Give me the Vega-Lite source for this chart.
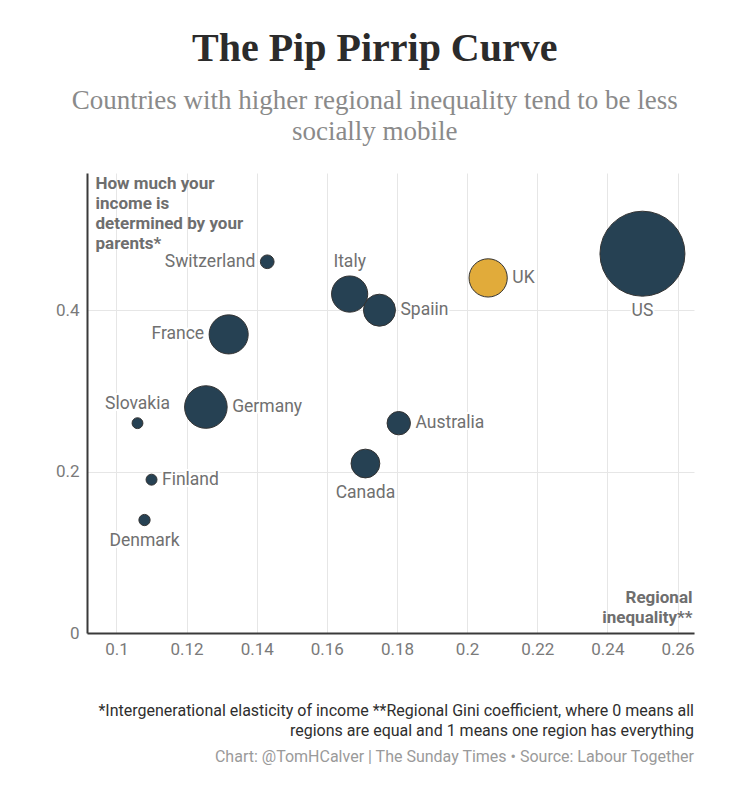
{
  "$schema": "https://vega.github.io/schema/vega-lite/v6.json",
  "background": "white",
  "padding": {"left": 55, "top": 29, "right": 20, "bottom": 10},
  "title": {
    "text": "The Pip Pirrip Curve",
    "subtitle": ["Countries with higher regional inequality tend to be less", "socially mobile"],
    "anchor": "middle",
    "font": "Liberation Serif",
    "fontSize": 40,
    "fontWeight": "bold",
    "color": "#2b2b2b",
    "subtitleFont": "Liberation Serif",
    "subtitleFontSize": 27,
    "subtitleColor": "#8a8a8a",
    "subtitleLineHeight": 31,
    "subtitlePadding": 19,
    "offset": 28
  },
  "datasets": {
    "countries": [
      {"country": "US", "inequality": 0.25, "elasticity": 0.47, "population": 331},
      {"country": "Switzerland", "inequality": 0.143, "elasticity": 0.46, "population": 8.6},
      {"country": "Italy", "inequality": 0.1665, "elasticity": 0.42, "population": 60},
      {"country": "Spaiin", "inequality": 0.175, "elasticity": 0.4, "population": 47},
      {"country": "UK", "inequality": 0.206, "elasticity": 0.44, "population": 67},
      {"country": "France", "inequality": 0.132, "elasticity": 0.37, "population": 70},
      {"country": "Slovakia", "inequality": 0.106, "elasticity": 0.26, "population": 5.4},
      {"country": "Germany", "inequality": 0.1255, "elasticity": 0.28, "population": 83},
      {"country": "Finland", "inequality": 0.11, "elasticity": 0.19, "population": 5.5},
      {"country": "Denmark", "inequality": 0.108, "elasticity": 0.14, "population": 5.8},
      {"country": "Canada", "inequality": 0.171, "elasticity": 0.21, "population": 38},
      {"country": "Australia", "inequality": 0.1805, "elasticity": 0.26, "population": 25}
    ]
  },
  "vconcat": [
    {
      "width": 607,
      "height": 460,
      "title": {
        "text": ["*Intergenerational elasticity of income **Regional Gini coefficient, where 0 means all", "regions are equal and 1 means one region has everything"],
        "subtitle": "Chart: @TomHCalver | The Sunday Times \u2022 Source: Labour Together",
        "orient": "bottom",
        "anchor": "end",
        "frame": "group",
        "font": "Roboto",
        "fontSize": 16,
        "fontWeight": "normal",
        "color": "#2e2e2e",
        "lineHeight": 20,
        "subtitleFont": "Roboto",
        "subtitleFontSize": 16,
        "subtitleColor": "#9a9a9a",
        "subtitlePadding": 9.5,
        "offset": 46
      },
      "data": {"name": "countries"},
      "encoding": {
        "x": {
          "field": "inequality",
          "type": "quantitative",
          "scale": {"domain": [0.0916, 0.2647], "nice": false, "zero": false},
          "axis": {
            "title": ["Regional", "inequality**"],
            "values": [0.1, 0.12, 0.14, 0.16, 0.18, 0.2, 0.22, 0.24, 0.26],
            "format": "~g",
            "labelPadding": 8,
            "titleX": 605,
            "titleY": -27,
            "titleAlign": "right",
            "titleBaseline": "bottom"
          }
        },
        "y": {
          "field": "elasticity",
          "type": "quantitative",
          "scale": {"domain": [0, 0.57], "nice": false},
          "axis": {
            "title": ["How much your", "income is", "determined by your", "parents*"],
            "values": [0, 0.2, 0.4],
            "format": "~g",
            "labelPadding": 8,
            "titleAngle": 0,
            "titleAlign": "left",
            "titleBaseline": "top",
            "titleX": 8,
            "titleY": 2
          }
        }
      },
      "layer": [
        {
          "mark": {"type": "circle", "opacity": 1, "stroke": "#333333", "strokeWidth": 1},
          "encoding": {
            "size": {
              "field": "population",
              "type": "quantitative",
              "scale": {"domain": [0, 331], "range": [0, 7225]},
              "legend": null
            },
            "color": {
              "condition": {"test": "datum.country === 'UK'", "value": "#e1ab3a"},
              "value": "#264153"
            }
          }
        },
        {
          "mark": {
            "type": "text",
            "font": "Roboto",
            "fontSize": 17.5,
            "baseline": "middle",
            "stroke": "white",
            "strokeWidth": 4,
            "strokeJoin": "round",
            "fill": "white",
            "align": {"expr": "indexof(['Switzerland','France'], datum.country) >= 0 ? 'right' : indexof(['Italy','Slovakia','US','Denmark','Canada'], datum.country) >= 0 ? 'center' : 'left'"},
            "dx": {"expr": "indexof(['Switzerland','France'], datum.country) >= 0 ? -(sqrt(datum.population*7225/331)/2+5) : indexof(['Italy','Slovakia','US','Denmark','Canada'], datum.country) >= 0 ? 0 : sqrt(datum.population*7225/331)/2+5"},
            "dy": {"expr": "indexof(['Italy','Slovakia'], datum.country) >= 0 ? -(sqrt(datum.population*7225/331)/2+13.5) : indexof(['US','Denmark','Canada'], datum.country) >= 0 ? sqrt(datum.population*7225/331)/2+15 : 0"}
          },
          "encoding": {"text": {"field": "country"}}
        },
        {
          "mark": {
            "type": "text",
            "font": "Roboto",
            "fontSize": 17.5,
            "baseline": "middle",
            "fill": "#707070",
            "align": {"expr": "indexof(['Switzerland','France'], datum.country) >= 0 ? 'right' : indexof(['Italy','Slovakia','US','Denmark','Canada'], datum.country) >= 0 ? 'center' : 'left'"},
            "dx": {"expr": "indexof(['Switzerland','France'], datum.country) >= 0 ? -(sqrt(datum.population*7225/331)/2+5) : indexof(['Italy','Slovakia','US','Denmark','Canada'], datum.country) >= 0 ? 0 : sqrt(datum.population*7225/331)/2+5"},
            "dy": {"expr": "indexof(['Italy','Slovakia'], datum.country) >= 0 ? -(sqrt(datum.population*7225/331)/2+13.5) : indexof(['US','Denmark','Canada'], datum.country) >= 0 ? sqrt(datum.population*7225/331)/2+15 : 0"}
          },
          "encoding": {"text": {"field": "country"}}
        }
      ]
    }
  ],
  "config": {
    "font": "Roboto",
    "view": {"stroke": null},
    "concat": {"spacing": 0},
    "axis": {
      "grid": true,
      "gridColor": "#e6e6e6",
      "gridWidth": 1,
      "ticks": false,
      "domainColor": "#3a3a3a",
      "domainWidth": 2,
      "labelFont": "Roboto",
      "labelFontSize": 17,
      "labelColor": "#7a7a7a",
      "titleFont": "Roboto",
      "titleFontSize": 17,
      "titleFontWeight": "bold",
      "titleColor": "#6e6e6e",
      "titleLineHeight": 20
    }
  }
}
